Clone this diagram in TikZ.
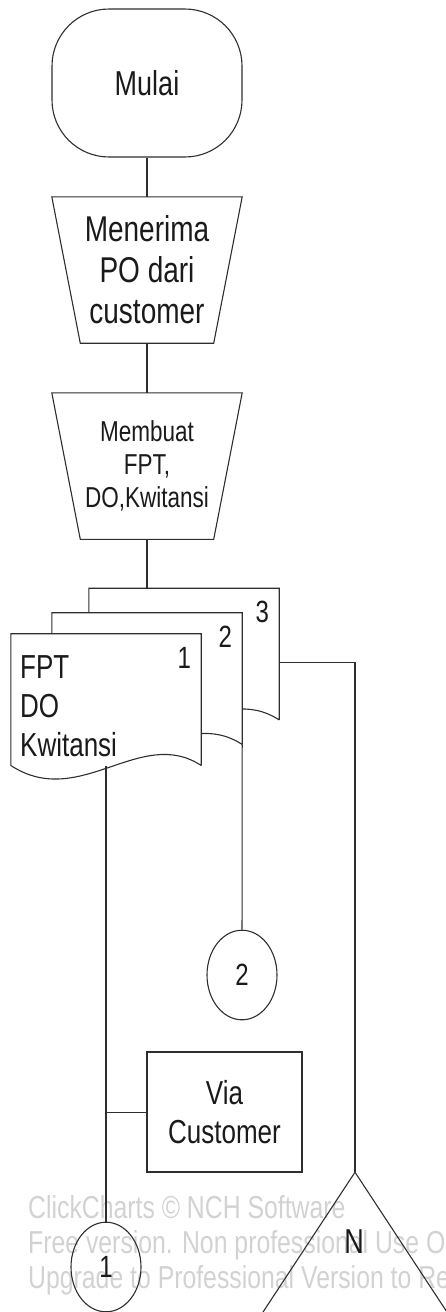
\documentclass[tikz,border=0pt]{standalone}
\usepackage{fontspec}
\setmainfont{Liberation Sans}
\usetikzlibrary{calc}
\definecolor{Ink}{HTML}{1A1A1A}
\definecolor{Wire}{HTML}{2E2E2E}
\definecolor{Mark}{HTML}{D2D2D2}

\begin{document}
\begin{tikzpicture}[x=1pt,y=-0.78125pt,yscale=1.28,transform shape,
    every node/.style={text=Ink},
    flow/.style={draw=Wire,line width=1.1pt},
    link/.style={draw=Wire,line width=1.1pt},
    manual/.style={minimum width=190pt,minimum height=114pt,inner sep=0pt,align=center},
    page/.style={minimum width=190pt,minimum height=102.5pt,inner sep=0pt},
    onpage/.style={flow,circle,minimum size=70pt,inner sep=0pt,
      font=\fontsize{24}{28}\selectfont}]
  \useasboundingbox (0,0) rectangle (446,1312);

  % trial stamp sits behind everything
  \node[anchor=west,align=left,inner sep=0pt,text=Mark,
        font=\fontsize{24.8}{27.3}\selectfont] (stamp) at (28,1245)
        {ClickCharts © NCH Software\\Free version. Non professional Use Only\\Upgrade to Professional Version to Remove};

  \node[flow,rectangle,rounded corners=57pt,minimum width=190pt,minimum height=115.6pt,
        font=\fontsize{27}{31}\selectfont] (start) at (147,83) {Mulai};
  \node[manual,font=\fontsize{28}{32}\selectfont] (recv) at (147,270) {Menerima\\PO dari\\customer};
  \node[manual,font=\fontsize{22.5}{26}\selectfont] (make) at (147,466) {Membuat\\FPT,\\DO,Kwitansi};
  % manual operation outline: wide top, narrow bottom
  \foreach \m in {recv,make}
    \draw[flow] (\m.north west) -- (\m.north east) -- ($(\m.south east)+(-28.5,0)$)
      -- ($(\m.south west)+(28.5,0)$) -- cycle;

  % the three copies, back to front
  \node[page] (doc3) at (184,654) {};
  \node[page] (doc2) at (147,678.5) {};
  \node[page] (doc1) at (106,699.5) {};
  \foreach \d in {doc3,doc2,doc1}
    \draw[flow,fill=white] (\d.south east) -- (\d.north east) -- (\d.north west) -- (\d.south west)
      .. controls ($(\d.south west)+(69,45)$) and ($(\d.south east)+(-61,-40)$) .. (\d.south east);
  \foreach \d/\n in {doc1/1,doc2/2,doc3/3}
    \node[inner sep=0pt,font=\fontsize{24}{28}\selectfont] (num\n) at ($(\d.north east)+(-17,24)$) {\n};
  \node[anchor=west,align=left,inner sep=0pt,font=\fontsize{26}{30.5}\selectfont] (doc1-text) at (20,706)
        {FPT\\DO\\Kwitansi};

  \node[onpage] (c2) at (242,975) {2};
  \node[onpage] (c1) at (106,1267) {1};
  \node[flow,rectangle,minimum width=155pt,minimum height=93.75pt,align=center,
        font=\fontsize{26}{30.5}\selectfont] (via) at (224.5,1112) {Via\\Customer};

  % merge triangle, its base runs off the page
  \coordinate (tri) at (355,1172);
  \draw[flow] ($(tri)+(-150,228)$) -- (tri) -- ($(tri)+(150,228)$);
  \node[inner sep=0pt,font=\fontsize{27}{30}\selectfont] (tri-label) at (354,1242) {N};

  \foreach \a/\b in {start/recv,recv/make}
    \draw[link] (\a) -- (\b);
  \draw[link] (make.south) -- (make.south |- doc3.north);
  \draw[link] (doc1.south) -- (c1);
  \draw[link] (via.west) -- (via.west -| doc1.south);
  \draw[link] (doc2.south east) -- (c2);
  \draw[link] ($(doc3.east)+(0,8)$) -| (tri);
\end{tikzpicture}
\end{document}
